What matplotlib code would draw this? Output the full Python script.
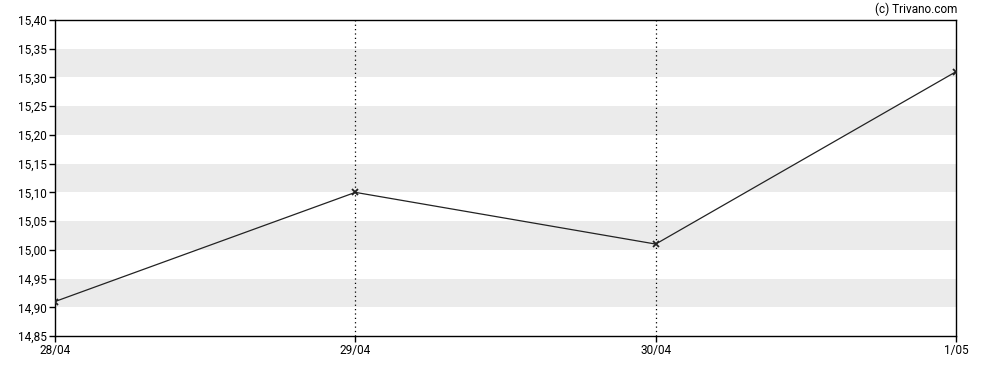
import matplotlib
matplotlib.use("Agg")
import matplotlib.pyplot as plt
import numpy as np

dates = ["28/04", "29/04", "30/04", "1/05"]
prices = [14.91, 15.10, 15.01, 15.31]
y_ticks = [14.85, 14.90, 14.95, 15.00, 15.05, 15.10, 15.15, 15.20, 15.25, 15.30, 15.35, 15.40]

plt.rcParams['font.family'] = ['Roboto', 'DejaVu Sans']
plt.rcParams['font.size'] = 8.5

fig = plt.figure(figsize=(9.88, 3.70), dpi=100)
ax = fig.add_axes([55/988, 1 - 336/370, (956-55)/988, (336-20)/370])

x = np.arange(len(dates))
ax.set_xlim(0, len(dates) - 1)
ax.set_ylim(14.85, 15.40)

# grey bands every other 0.05 step
for lo in [14.90, 15.00, 15.10, 15.20, 15.30]:
    ax.axhspan(lo, lo + 0.05, color='#ebebeb', lw=0, zorder=0)

for xi in x[1:-1]:
    ax.axvline(xi, color='black', ls=(0, (1, 2.5)), lw=0.9, zorder=1)

ax.plot(x, prices, color='#222222', lw=0.9, marker='x', ms=4, mew=1.3, zorder=3)

ax.set_xticks(x)
ax.set_xticklabels(dates)
ax.set_yticks(y_ticks)
ax.set_yticklabels([f"{v:.2f}".replace('.', ',') for v in y_ticks])
ax.tick_params(direction='out', length=4, width=1, colors='black', labelsize=8.5)
ax.tick_params(axis='x', pad=2)
ax.tick_params(axis='y', pad=2)
for s in ax.spines.values():
    s.set_linewidth(1)

fig.text(957/988, 1 - 9/370, "(c) Trivano.com", ha='right', va='center', fontsize=8.5)

fig.savefig("out.png", dpi=100)
